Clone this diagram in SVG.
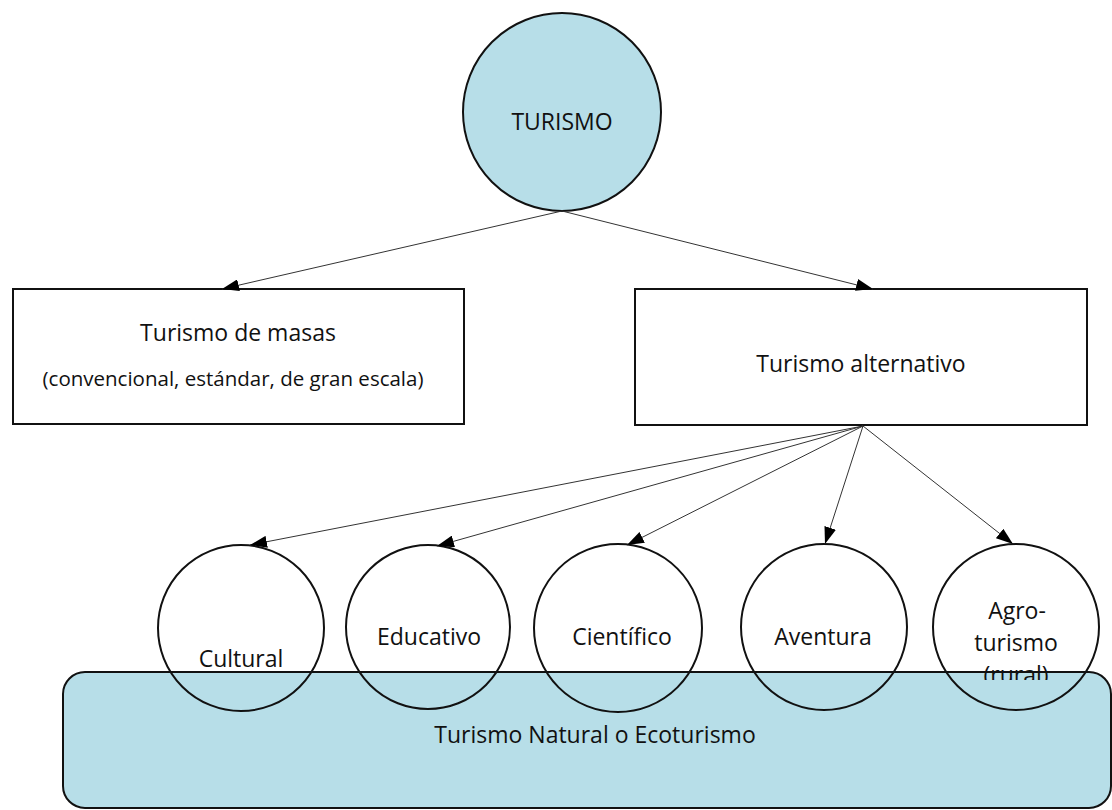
<svg xmlns="http://www.w3.org/2000/svg" width="1112" height="810" viewBox="0 0 1112 810">
<style>
text{font-family:"Open Sans","Noto Sans","Liberation Sans",sans-serif;font-size:23px;fill:#111;text-anchor:middle}
.small{font-size:20.5px}
.box{fill:#fff;stroke:#111;stroke-width:2}
.blue{fill:#b7dee8;stroke:#111;stroke-width:2}
.ring{fill:none;stroke:#111;stroke-width:2}
.conn{stroke:#333;stroke-width:1;fill:none;marker-end:url(#ah)}
</style>
<defs>
<marker id="ah" markerUnits="userSpaceOnUse" markerWidth="18" markerHeight="12" refX="17" refY="6" orient="auto">
<path d="M0,0 L17,6 L0,12 z" fill="#000"/>
</marker>
<clipPath id="agroclip"><rect x="920" y="560" width="192" height="120"/></clipPath>
</defs>
<rect width="1112" height="810" fill="#fff"/>
<g id="ecoturismo">
<rect class="blue" x="63" y="672" width="1048" height="136" rx="22"/>
<text x="595" y="743">Turismo Natural o Ecoturismo</text>
</g>
<g id="turismo">
<circle class="blue" cx="562" cy="112" r="99"/>
<text x="562" y="130">TURISMO</text>
</g>
<g id="masas">
<rect class="box" x="13" y="289" width="451" height="135"/>
<text x="238" y="341">Turismo de masas</text>
<text class="small" x="233" y="386">(convencional, estándar, de gran escala)</text>
</g>
<g id="alternativo">
<rect class="box" x="635" y="289" width="452" height="136"/>
<text x="861" y="372">Turismo alternativo</text>
</g>
<g id="cultural">
<circle class="ring" cx="241" cy="628" r="83"/>
<text x="241" y="667">Cultural</text>
</g>
<g id="educativo">
<circle class="ring" cx="428" cy="627" r="82"/>
<text x="429" y="645">Educativo</text>
</g>
<g id="cientifico">
<circle class="ring" cx="618" cy="628" r="84"/>
<text x="622" y="645">Científico</text>
</g>
<g id="aventura">
<circle class="ring" cx="824" cy="627" r="83"/>
<text x="823" y="645">Aventura</text>
</g>
<g id="agroturismo">
<circle class="ring" cx="1016" cy="627" r="83"/>
<g clip-path="url(#agroclip)">
<text x="1017" y="619">Agro-</text>
<text x="1016" y="651">turismo</text>
<text x="1016" y="683">(rural)</text>
</g>
</g>
<g id="connectors">
<line class="conn" x1="562" y1="211" x2="222" y2="289"/>
<line class="conn" x1="562" y1="211" x2="873" y2="289"/>
<line class="conn" x1="863" y1="426" x2="250" y2="545"/>
<line class="conn" x1="863" y1="426" x2="437" y2="546"/>
<line class="conn" x1="863" y1="426" x2="627" y2="545"/>
<line class="conn" x1="863" y1="426" x2="825" y2="544"/>
<line class="conn" x1="863" y1="426" x2="1013" y2="544"/>
</g>
</svg>
